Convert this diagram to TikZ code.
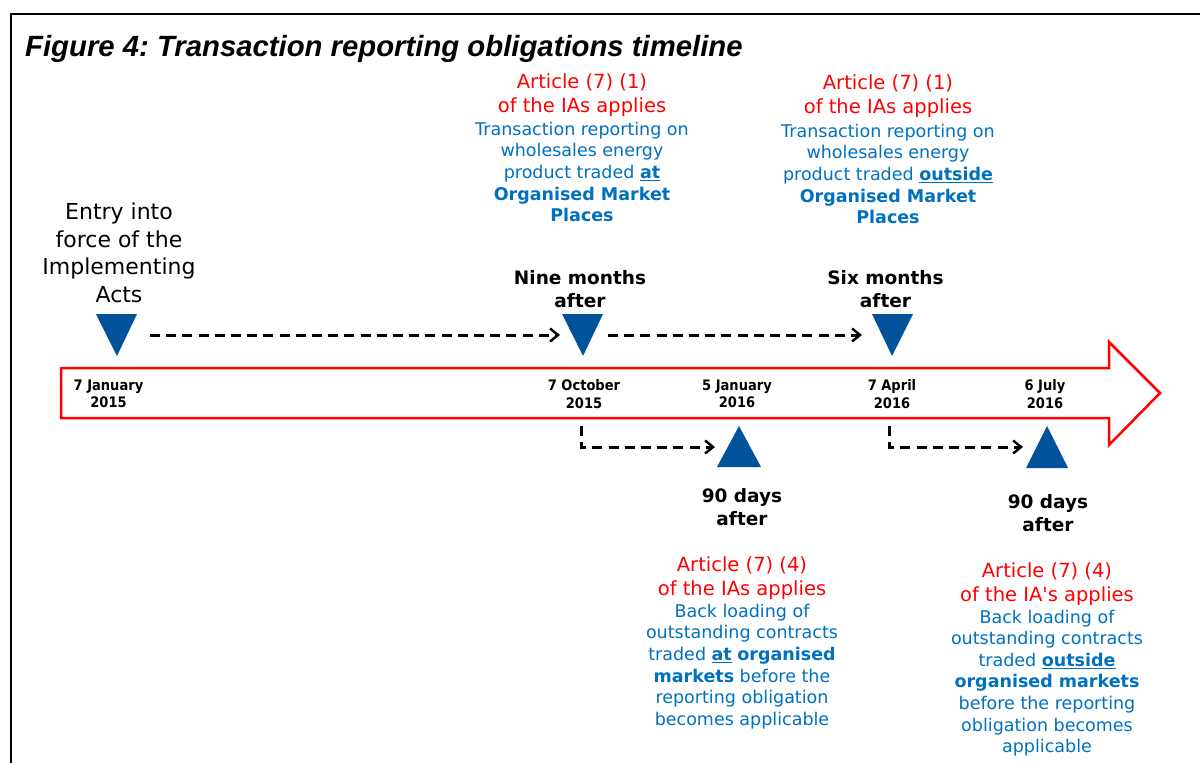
\documentclass[tikz,border=0pt]{standalone}
\usepackage{fontspec}
\setmainfont{DejaVu Sans}
\newfontfamily\titlefont{Liberation Sans}
\newfontfamily\datefont{DejaVu Sans Condensed}
\usetikzlibrary{arrows.meta}
\definecolor{triblue}{RGB}{0,82,155}
\definecolor{txtblue}{RGB}{0,112,192}
\definecolor{txtred}{RGB}{255,0,0}
\frenchspacing
\tikzset{
  entrytxt/.style={inner sep=0pt, align=center, font=\fontsize{22}{27.5}\selectfont},
  redtxt/.style={inner sep=0pt, align=center, text=txtred, font=\fontsize{19.5}{23.8}\selectfont},
  bluetxt/.style={inner sep=0pt, align=center, text=txtblue, font=\fontsize{17.5}{21.6}\selectfont},
  datetxt/.style={inner sep=0pt, align=center, font=\datefont\bfseries\fontsize{14.5}{17.5}\selectfont},
  aftertxt/.style={inner sep=0pt, align=center, font=\bfseries\fontsize{18.5}{23}\selectfont},
  tri/.style={fill=triblue, draw=none},
  dasharrow/.style={line width=3pt, dash pattern=on 10pt off 6.2pt, -{Straight Barb[length=8pt,width=13pt,line width=2.4pt]}},
}
\begin{document}
\begin{tikzpicture}[x=1pt,y=-1pt]
\useasboundingbox (0,0) rectangle (1200,763);
% frame
\draw[line width=2pt] (11,763) -- (11,14) -- (1200,14);
% title
\node[inner sep=0pt, anchor=base west, font=\titlefont\bfseries\itshape\fontsize{29.3}{33}\selectfont] (title) at (25,56) {Figure 4: Transaction reporting obligations timeline};
% timeline arrow
\draw[draw=txtred, line width=2.5pt, line join=miter] (61,368) -- (1109,368) -- (1109,342) -- (1160,393) -- (1109,445) -- (1109,418) -- (61,418) -- cycle;
% triangles
\coordinate (t1) at (117,335);
\coordinate (t2) at (583,335);
\coordinate (t3) at (892,335);
\coordinate (b1) at (739,447);
\coordinate (b2) at (1047,447);
\fill[tri] (96,314) -- (137,314) -- (117,356) -- cycle;
\fill[tri] (562,314) -- (603,314) -- (583,356) -- cycle;
\fill[tri] (872,314) -- (913,314) -- (892,356) -- cycle;
\fill[tri] (717,467) -- (761,467) -- (739,426) -- cycle;
\fill[tri] (1026,468) -- (1068,468) -- (1047,426) -- cycle;
% dashed connectors
\coordinate (s1) at (150,335);
\coordinate (e1) at (560,335);
\coordinate (s2) at (608,335);
\coordinate (e2) at (862,335);
\coordinate (s3) at (581,426);
\coordinate (e3) at (715,447);
\coordinate (s4) at (889,426);
\coordinate (e4) at (1023,447);
\draw[dasharrow] (s1) -- (e1);
\draw[dasharrow] (s2) -- (e2);
\draw[dasharrow] (s3) |- (e3);
\draw[dasharrow] (s4) |- (e4);
% texts
\node[entrytxt] (entry) at (119,253) {Entry into\\force of the\\Implementing\\Acts};
\node[redtxt] (r1) at (582,95) {Article (7) (1)\\of the IAs applies};
\node[bluetxt] (u1) at (582,172) {Transaction reporting on\\wholesales energy\\product traded \underline{\textbf{at}}\\\textbf{Organised Market}\\\textbf{Places}};
\node[redtxt] (r2) at (888,96.5) {Article (7) (1)\\of the IAs applies};
\node[bluetxt] (u2) at (888,174) {Transaction reporting on\\wholesales energy\\product traded \underline{\textbf{outside}}\\\textbf{Organised Market}\\\textbf{Places}};
\node[aftertxt] (nine) at (580,289.5) {Nine months\\after};
\node[aftertxt] (six) at (885.5,289.5) {Six months\\after};
\node[datetxt] (d1) at (108.5,394) {7 January\\2015};
\node[datetxt] (d2) at (584,394) {7 October\\2015};
\node[datetxt] (d3) at (737,394) {5 January\\2016};
\node[datetxt] (d4) at (892,394) {7 April\\2016};
\node[datetxt] (d5) at (1045,394) {6 July\\2016};
\node[aftertxt] (n1) at (742,507) {90 days\\after};
\node[aftertxt] (n2) at (1048,513.5) {90 days\\after};
\node[redtxt] (r3) at (742,578.5) {Article (7) (4)\\of the IAs applies};
\node[bluetxt] (u3) at (742,666.5) {Back loading of\\outstanding contracts\\traded \underline{\textbf{at}} \textbf{organised}\\\textbf{markets} before the\\reporting obligation\\becomes applicable};
\node[redtxt] (r4) at (1047,584) {Article (7) (4)\\of the IA\textquotesingle s applies};
\node[bluetxt] (u4) at (1047,683) {Back loading of\\outstanding contracts\\traded \underline{\textbf{outside}}\\\textbf{organised markets}\\before the reporting\\obligation becomes\\applicable};
\end{tikzpicture}
\end{document}
